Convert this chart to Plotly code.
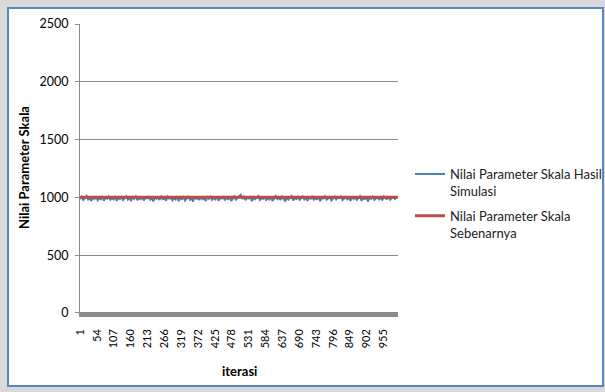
import plotly.graph_objects as go

# Iterations at which the simulated scale parameter is plotted
iterasi = list(range(1, 1001, 5))

# Simulated scale parameter values (one per plotted iteration)
skala_simulasi = [
    985, 1004, 978, 996, 1012, 981, 990, 969, 1001, 987, 1008, 975, 993, 984, 1010, 972, 998, 989, 1006, 979,
    994, 983, 1011, 970, 999, 986, 1003, 977, 991, 1009, 982, 996, 968, 1002, 988, 1014, 976, 993, 985, 1007,
    974, 997, 990, 1010, 980, 995, 966, 1004, 987, 999, 978, 1012, 984, 992, 971, 1006, 989, 1001, 975, 994,
    983, 1009, 968, 997, 986, 1003, 973, 992, 1011, 980, 995, 964, 1005, 988, 998, 977, 1008, 985, 991, 970,
    1002, 987, 1013, 979, 996, 983, 1006, 972, 994, 989, 1010, 975, 999, 984, 1004, 969, 993, 1008, 981, 997,
    1015, 1022, 986, 1005, 976, 998, 990, 1009, 967, 1001, 984, 995, 1012, 978, 992, 987, 1007, 973, 996, 982,
    1003, 970, 994, 1010, 985, 999, 977, 1006, 989, 965, 1002, 981, 997, 1011, 974, 993, 986, 1004, 979, 991,
    1008, 983, 996, 971, 1000, 988, 1013, 976, 994, 985, 1005, 968, 998, 990, 1009, 980, 995, 1002, 974, 987,
    1006, 982, 999, 993, 1012, 977, 989, 1003, 984, 996, 970, 1008, 986, 1000, 979, 994, 1010, 972, 991, 985,
    1004, 966, 997, 988, 1011, 978, 993, 1002, 983, 998, 975, 1007, 990, 985, 1009, 980, 996, 1001, 987, 1006,
]

# True scale parameter used in the simulation
skala_sebenarnya = 1000
iterasi_penuh = [1, 1000]
skala_sebenarnya_seri = [skala_sebenarnya, skala_sebenarnya]

# Axis ticks
x_ticks = list(range(1, 1000, 53))
y_ticks = [0, 500, 1000, 1500, 2000, 2500]

FONT = "Lato"
W, H = 605, 392
L, R, T, B = 80, 207, 24, 75
pw, ph = W - L - R, H - T - B


def px_x(px):
    return (px - L) / pw


def px_y(py):
    return (H - B - py) / ph


fig = go.Figure()
fig.add_trace(go.Scatter(
    x=iterasi, y=skala_simulasi, mode="lines",
    name="Nilai Parameter Skala Hasil<br>Simulasi", legendgroup="simulasi",
    line=dict(color="#4a7ebb", width=2),
))
fig.add_trace(go.Scatter(
    x=iterasi_penuh, y=skala_sebenarnya_seri, mode="lines",
    name="Nilai Parameter Skala<br>Sebenarnya", legendgroup="sebenarnya",
    line=dict(color="#be4b48", width=3),
))

# Chart frame
fig.add_shape(type="rect", xref="paper", yref="paper",
              x0=px_x(8), x1=px_x(603), y0=px_y(386), y1=px_y(8),
              fillcolor="white", line=dict(color="#5b87c0", width=2),
              layer="below")
# Grey floor under the plot
fig.add_shape(type="rect", xref="x", yref="y",
              x0=0.5, x1=1000.5, y0=-35, y1=0,
              fillcolor="#8c8c8c", line=dict(width=0), layer="above")

fig.add_annotation(text="<b>iterasi</b>", xref="paper", yref="paper",
                   x=px_x(239), y=px_y(371), xanchor="center", yanchor="middle",
                   showarrow=False,
                   font=dict(family=FONT, size=13, color="#000000"))
fig.add_annotation(text="<b>Nilai Parameter Skala</b>", xref="paper", yref="paper",
                   x=px_x(24), y=px_y(168), xanchor="center", yanchor="middle",
                   showarrow=False, textangle=-90,
                   font=dict(family=FONT, size=13, color="#000000"))

fig.update_layout(
    width=W, height=H,
    margin=dict(l=L, r=R, t=T, b=B, autoexpand=False),
    paper_bgcolor="#d9d9d9",
    plot_bgcolor="rgba(0,0,0,0)",
    font=dict(family=FONT, size=12.5, color="#000000"),
    showlegend=True,
    legend=dict(
        x=px_x(410), y=px_y(159), xanchor="left", yanchor="top",
        bgcolor="rgba(0,0,0,0)", borderwidth=0,
        font=dict(family=FONT, size=13, color="#222222"),
        valign="top", traceorder="grouped", tracegroupgap=5, itemwidth=30,
    ),
    xaxis=dict(
        range=[0.5, 1000.5], tickmode="array", tickvals=x_ticks,
        ticktext=[str(v) for v in x_ticks], tickangle=-90,
        tickfont=dict(size=11),
        showgrid=False, zeroline=False, showline=False, ticks="",
        ticklabelstandoff=9,
    ),
    yaxis=dict(
        range=[-35, 2500], tickmode="array", tickvals=y_ticks,
        showgrid=True, gridcolor="#8a8a8a", gridwidth=1,
        zeroline=False, showline=True, linecolor="#8a8a8a", linewidth=1,
        ticks="outside", ticklen=4, tickcolor="#8a8a8a",
        ticklabelstandoff=4,
    ),
)

fig.write_html("out.html")
